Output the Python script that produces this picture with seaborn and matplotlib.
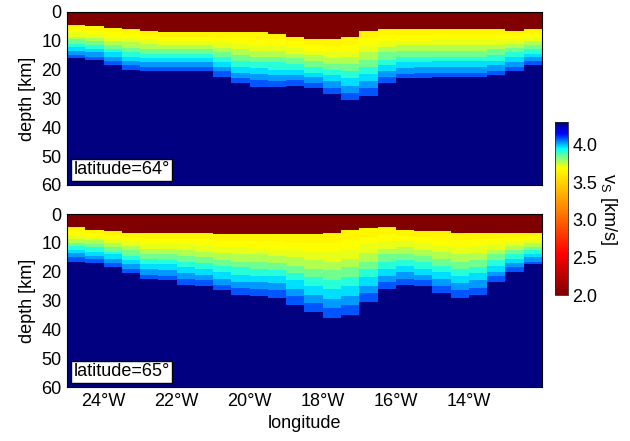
import numpy as np
import pandas as pd
import matplotlib
matplotlib.use("Agg")
import matplotlib.pyplot as plt
from matplotlib.colors import LinearSegmentedColormap
import seaborn as sns

# --- data ---
# columns are 0.5 deg wide, from 25W to 12W
lon_left = np.arange(-25.0, -12.0, 0.5)

# depth [km] of the bottom of the low-velocity (2.0 km/s) top layer
top_64 = [4.5, 5.1, 5.7, 6.0, 6.5, 6.8, 7.2, 7.2, 7.2, 7.2, 7.2, 7.4, 8.7,
          9.7, 9.7, 8.4, 6.6, 6.0, 6.0, 6.0, 6.0, 6.0, 6.0, 6.0, 6.3, 6.0]
top_65 = [4.7, 5.3, 5.9, 6.7, 6.7, 6.5, 6.5, 6.7, 7.1, 7.1, 7.1, 7.1, 7.1,
          6.8, 6.5, 5.5, 5.0, 4.7, 5.3, 5.9, 6.1, 6.3, 6.3, 6.7, 6.7, 6.3]

# depth [km] where the mantle (4.3 km/s) starts
moho_64 = [16.1, 16.6, 18.4, 20.1, 20.7, 20.7, 20.5, 20.5, 22.4, 24.7, 25.8,
           26.0, 25.6, 26.3, 28.4, 30.3, 29.2, 24.5, 23.2, 23.0, 22.7, 22.7,
           22.7, 22.2, 20.4, 18.4]
moho_65 = [16.3, 16.9, 18.3, 20.3, 22.7, 23.2, 24.4, 25.0, 26.7, 27.9, 28.4,
           29.0, 31.3, 34.2, 36.0, 34.8, 30.5, 26.1, 24.4, 25.2, 27.3, 29.0,
           27.9, 23.6, 19.8, 17.5]

# velocity of the crustal sub-layers, top to bottom [km/s]
crust_vs = [3.66, 3.69, 3.72, 3.77, 3.84, 3.91, 3.97, 4.03, 4.08]
sed_vs = 2.0
mantle_vs = 4.3

lon_ticks = [-24, -22, -20, -18, -16, -14]
lon_labels = ["24°W", "22°W", "20°W", "18°W", "16°W", "14°W"]
depth_ticks = [0, 10, 20, 30, 40, 50, 60]
cbar_ticks = [2.0, 2.5, 3.0, 3.5, 4.0]

DZ = 0.5
depth_mid = np.arange(0, 60, DZ) + DZ / 2


def build_section(top, moho):
    grid = np.full((len(depth_mid), len(lon_left)), mantle_vs)
    for j in range(len(lon_left)):
        thick = moho[j] - top[j]
        for i, z in enumerate(depth_mid):
            if z < top[j]:
                grid[i, j] = sed_vs
            elif z < moho[j]:
                k = int((z - top[j]) / thick * len(crust_vs))
                grid[i, j] = crust_vs[min(k, len(crust_vs) - 1)]
    return pd.DataFrame(grid, index=depth_mid, columns=lon_left)


# colour scale: jet-like, stretched over the slow end
cmap = LinearSegmentedColormap.from_list("vs", [
    (0.0, (0.5, 0.0, 0.0)),
    ((2.55 - 2.0) / 2.3, (1.0, 0.0, 0.0)),
    ((3.70 - 2.0) / 2.3, (1.0, 1.0, 0.0)),
    ((3.95 - 2.0) / 2.3, (0.0, 1.0, 1.0)),
    ((4.15 - 2.0) / 2.3, (0.0, 0.0, 1.0)),
    (1.0, (0.0, 0.0, 0.5)),
])

sns.set_style("white")
plt.rcParams['font.family'] = ['Liberation Sans', 'DejaVu Sans']
plt.rcParams['mathtext.fontset'] = 'custom'
plt.rcParams['mathtext.rm'] = 'Liberation Sans'
plt.rcParams['mathtext.it'] = 'Liberation Sans'
for key in ['text.color', 'axes.labelcolor', 'xtick.color', 'ytick.color']:
    plt.rcParams[key] = 'black'
FS = 13

fig = plt.figure(figsize=(6.3, 4.41), dpi=100)
ax1 = fig.add_axes([0.1063, 0.5805, 0.754, 0.3923])
ax2 = fig.add_axes([0.1063, 0.1224, 0.754, 0.3923])
cax = fig.add_axes([0.881, 0.331, 0.0206, 0.3923])

panels = [(ax1, top_64, moho_64, "latitude=64°"),
          (ax2, top_65, moho_65, "latitude=65°")]

for n, (ax, top, moho, lab) in enumerate(panels):
    df = build_section(top, moho)
    sns.heatmap(df, ax=ax, cmap=cmap, vmin=2.0, vmax=4.3,
                cbar=(n == 0), cbar_ax=cax if n == 0 else None,
                xticklabels=False, yticklabels=False, rasterized=True)
    for sp in ax.spines.values():
        sp.set_visible(True)
        sp.set_color("black")
        sp.set_linewidth(0.8)
    ax.set_yticks([d / DZ for d in depth_ticks])
    ax.set_yticklabels([str(d) for d in depth_ticks], fontsize=FS, rotation=0)
    ax.set_ylabel("depth [km]", fontsize=FS)
    ax.tick_params(length=0, pad=4, colors="black")
    ax.set_xticks([(l - lon_left[0]) / 0.5 for l in lon_ticks])
    if n == 1:
        ax.set_xticklabels(lon_labels, fontsize=FS)
        ax.set_xlabel("longitude", fontsize=FS)
    else:
        ax.set_xticklabels([])
        ax.set_xlabel("")
    ax.text(0.014, 0.087, lab, transform=ax.transAxes, fontsize=FS,
            va="center", ha="left", color="black",
            bbox=dict(boxstyle="square,pad=0.12", fc="white", ec="black", lw=1.0))

cb = ax1.collections[0].colorbar
cb.set_ticks(cbar_ticks)
cb.set_ticklabels([f"{t:.1f}" for t in cbar_ticks])
cb.ax.tick_params(labelsize=FS, length=0, pad=3, colors="black")
cb.outline.set_linewidth(0.6)
cb.set_label("v$_\\mathrm{S}$ [km/s]", fontsize=FS, rotation=270, labelpad=16,
             color="black")

fig.savefig("out.png", dpi=100)
